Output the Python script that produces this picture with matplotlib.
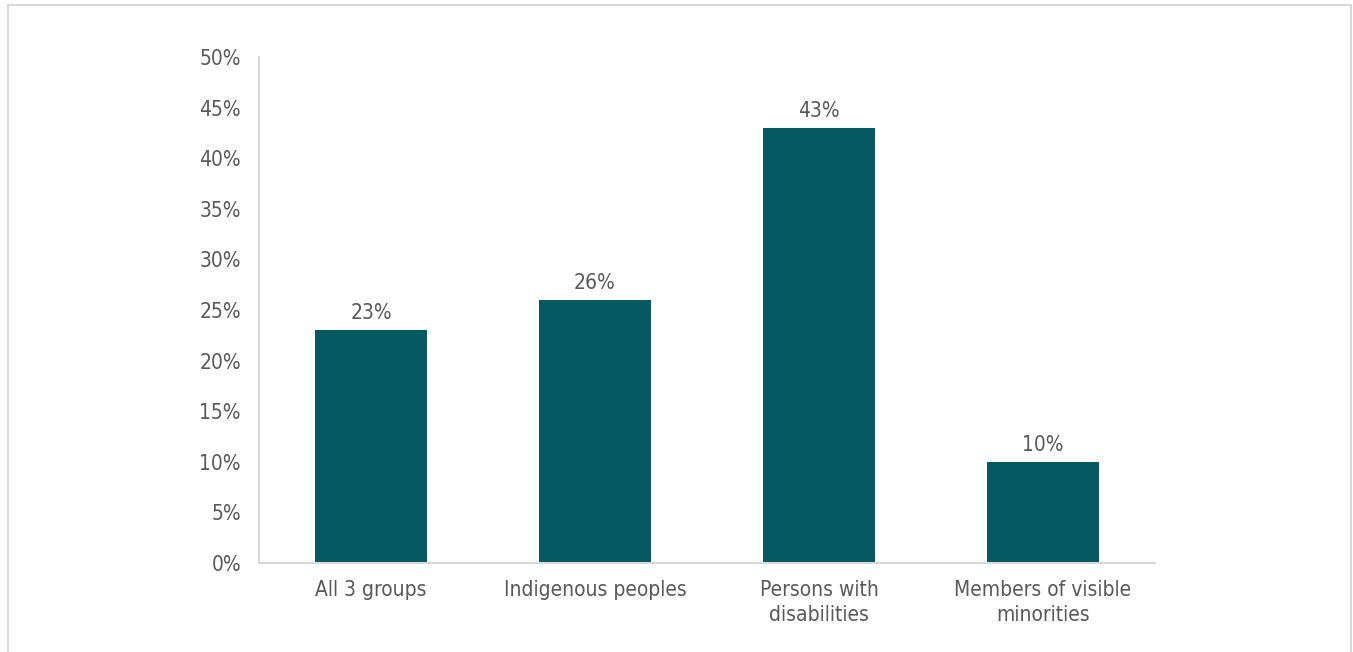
import matplotlib.pyplot as plt
from matplotlib.patches import Rectangle

categories = ["All 3 groups", "Indigenous peoples", "Persons with\ndisabilities",
              "Members of visible\nminorities"]
values = [23, 26, 43, 10]
yticks = [0, 5, 10, 15, 20, 25, 30, 35, 40, 45, 50]

# no narrow face installed, DejaVu condensed is the closest
plt.rcParams['font.family'] = ['DejaVu Sans']
plt.rcParams['font.stretch'] = 'condensed'

text_color = "#595959"
bar_color = "#045a60"

fig = plt.figure(figsize=(13.53, 6.52), dpi=100)
ax = fig.add_axes([0.1914, 0.1365, 0.6623, 0.7761])

x = range(len(categories))
bars = ax.bar(x, values, width=0.5, color=bar_color, zorder=2)
for b, v in zip(bars, values):
    ax.annotate(f"{v}%", (b.get_x() + b.get_width() / 2, v), xytext=(0, 5),
                textcoords="offset points", ha="center", va="bottom",
                fontsize=15, color=text_color)

ax.set_xlim(-0.5, 3.5)
ax.set_ylim(0, 50)
ax.set_yticks(yticks)
ax.set_yticklabels([f"{t}%" for t in yticks])
ax.set_xticks(list(x))
ax.set_xticklabels(categories, linespacing=1.35)
ax.tick_params(axis="both", length=0, labelsize=15, colors=text_color)
ax.tick_params(axis="y", pad=13)
ax.tick_params(axis="x", pad=12)

for s in ["top", "right"]:
    ax.spines[s].set_visible(False)
for s in ["left", "bottom"]:
    ax.spines[s].set_color("#d9d9d9")
    ax.spines[s].set_linewidth(1.5)

# outer frame (bottom edge falls outside the image)
fig.patches.append(Rectangle((8 / 1353, -0.05), 1343 / 1353, 1.05 - 5 / 652,
                             transform=fig.transFigure, fill=False,
                             edgecolor="#d9d9d9", linewidth=1.5))

fig.savefig("out.png", dpi=100)
